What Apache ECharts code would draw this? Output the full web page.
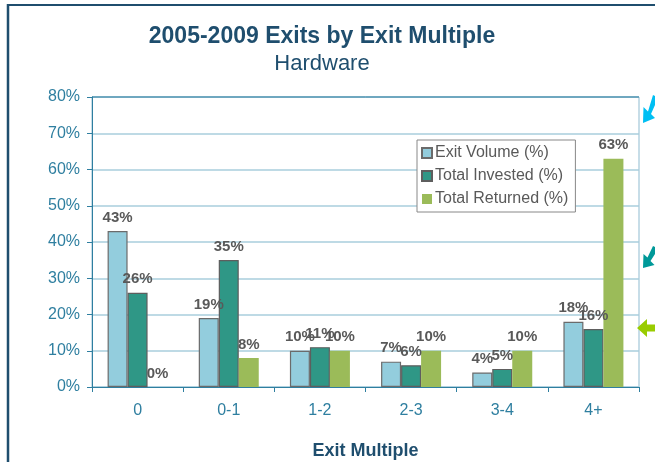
<!DOCTYPE html>
<html><head><meta charset="utf-8">
<script src="https://cdn.jsdelivr.net/npm/echarts@6/dist/echarts.min.js"></script>
<style>html,body{margin:0;padding:0;background:#fff}#c{width:655px;height:462px}</style>
</head><body><div id="c"></div>
<script>
const categories = ['0', '0-1', '1-2', '2-3', '3-4', '4+'];
const exitVolume = [43, 19, 10, 7, 4, 18];
const totalInvested = [26, 35, 11, 6, 5, 16];
const totalReturned = [0, 8, 10, 10, 10, 63];
const seriesNames = ['Exit Volume (%)', 'Total Invested (%)', 'Total Returned (%)'];
const yTicks = [0, 10, 20, 30, 40, 50, 60, 70, 80];

const chart = echarts.init(document.getElementById('c'), null, {renderer: 'canvas'});
const lbl = {show: true, position: 'top', distance: 6, formatter: '{c}%', color: '#595959', fontWeight: 'bold', fontSize: 15, fontFamily: 'Arial, Liberation Sans'};
chart.setOption({
  animation: false,
  textStyle: {fontFamily: 'Arial, Liberation Sans'},
  title: [{
    text: '2005-2009 Exits by Exit Multiple', left: 317, top: 20, textAlign: 'center',
    textStyle: {fontSize: 23, fontWeight: 'bold', color: '#1F4E6E', fontFamily: 'Arial, Liberation Sans'}
  }, {
    text: 'Hardware', left: 317, top: 48, textAlign: 'center',
    textStyle: {fontSize: 22, fontWeight: 'normal', color: '#1F4E6E', fontFamily: 'Arial, Liberation Sans'}
  }],
  legend: {
    orient: 'vertical', left: 417, top: 140, itemWidth: 10, itemHeight: 10, itemGap: 7,
    padding: [5, 7, 5, 4], borderColor: '#888', borderWidth: 1, backgroundColor: '#fff',
    icon: 'rect', data: seriesNames,
    textStyle: {fontSize: 16, color: '#595959', padding: [0, 0, 0, -2]}
  },
  grid: {left: 92, top: 97, right: 16, bottom: 75, show: true, borderColor: '#8FBBD0', borderWidth: 1,
         containLabel: false, outerBoundsMode: 'none'},
  xAxis: {
    type: 'category', data: categories,
    name: 'Exit Multiple', nameLocation: 'middle', nameGap: 55,
    nameTextStyle: {fontSize: 18, fontWeight: 'bold', color: '#1F4E6E'},
    axisLine: {lineStyle: {color: '#2F7FA0', width: 1}},
    axisTick: {show: true, length: 5, alignWithLabel: false, lineStyle: {color: '#2F7FA0'}},
    axisLabel: {fontSize: 16, color: '#2F7FA0', margin: 16}
  },
  yAxis: {
    type: 'value', min: 0, max: 80, interval: 10,
    axisLine: {show: true, lineStyle: {color: '#2F7FA0', width: 1}},
    axisTick: {show: true, length: 5, inside: false, lineStyle: {color: '#2F7FA0'}},
    axisLabel: {fontSize: 16, color: '#2F7FA0', margin: 12, formatter: v => yTicks.includes(v) ? v + '%' : ''},
    splitLine: {lineStyle: {color: '#A9CEDC', width: 1.5}}
  },
  series: [
    {name: seriesNames[0], type: 'bar', data: exitVolume, barWidth: 20, barGap: '0%',
     itemStyle: {color: '#93CDDD', borderColor: '#6B6B6B', borderWidth: 1.2}, label: lbl},
    {name: seriesNames[1], type: 'bar', data: totalInvested, barWidth: 20, barGap: '0%',
     itemStyle: {color: '#2F9786', borderColor: '#5E5E5E', borderWidth: 1.2}, label: lbl},
    {name: seriesNames[2], type: 'bar', data: totalReturned, barWidth: 20, barGap: '0%',
     itemStyle: {color: '#9BBB59'}, label: lbl}
  ],
  graphic: [
    {type: 'line', shape: {x1: 8, y1: 5, x2: 655, y2: 5}, style: {stroke: '#1F4E6E', lineWidth: 2}, z: 10},
    {type: 'line', shape: {x1: 8, y1: 4, x2: 8, y2: 462}, style: {stroke: '#1F4E6E', lineWidth: 2.5}, z: 10},
    {type: 'line', shape: {x1: 92, y1: 97, x2: 639, y2: 97}, style: {stroke: '#2F7FA0', lineWidth: 1}, z: 10},
    {type: 'polygon', shape: {points: [[643,123],[643.5,107],[648,111.5],[653,95],[655,96],[655,105],[651,114],[655,118]]}, style: {fill: '#00BFF3'}, z: 10},
    {type: 'polygon', shape: {points: [[643,268],[643.5,254],[647.5,257.5],[653,246],[655,247],[655,254],[650.5,261],[654.5,265]]}, style: {fill: '#009999'}, z: 10},
    {type: 'polygon', shape: {points: [[637,328],[647,319],[647,324.5],[655,324.5],[655,331.5],[647,331.5],[647,337]]}, style: {fill: '#99CC00'}, z: 10}
  ]
});
</script></body></html>
